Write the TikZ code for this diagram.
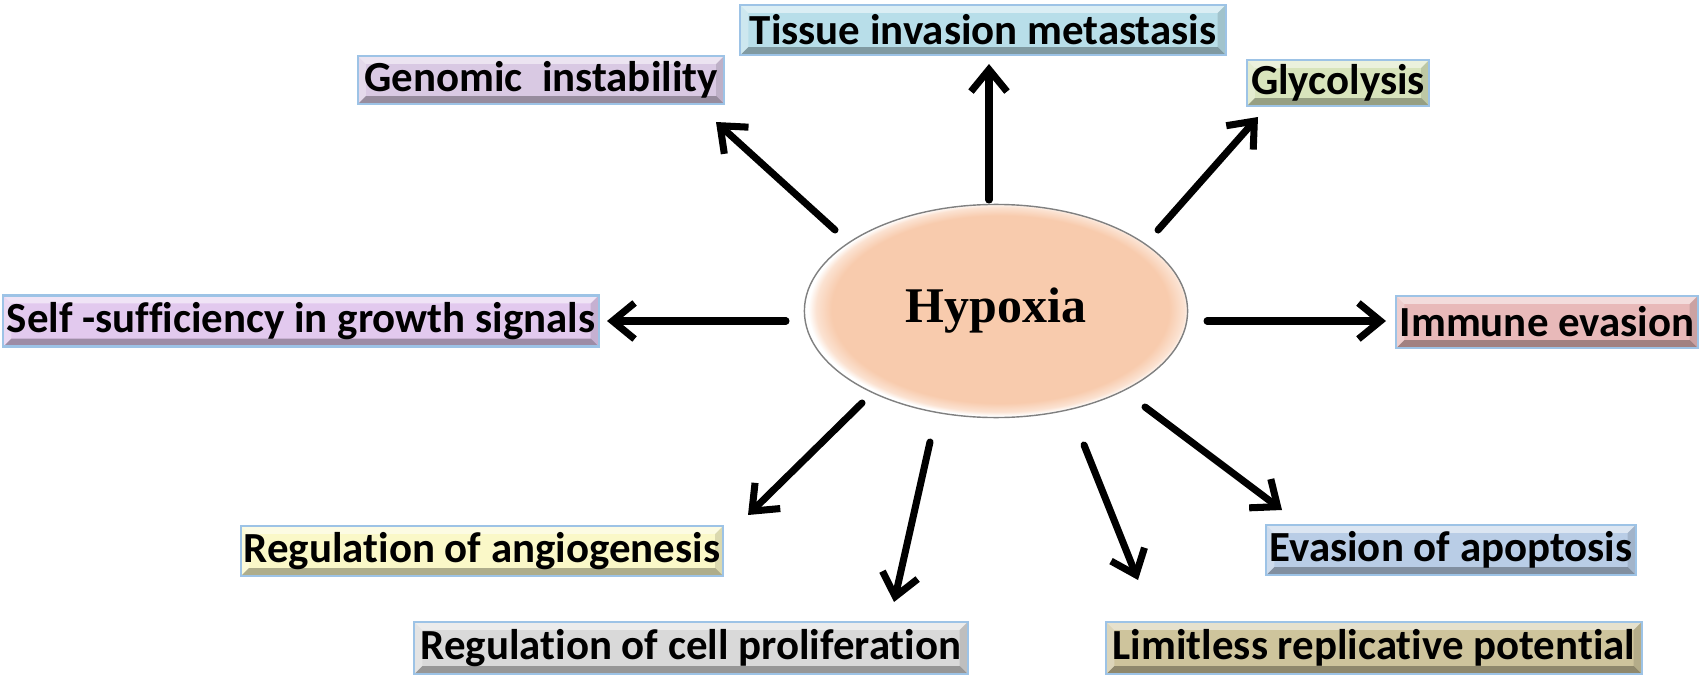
\documentclass[tikz,border=0pt]{standalone}
\usepackage{fontspec}
\setmainfont{Carlito}[Ligatures={NoCommon}]
\newfontfamily\tnr{Liberation Serif}
\usetikzlibrary{shapes.geometric,calc,arrows.meta}
\definecolor{bord}{HTML}{9DC3E6}
\definecolor{cgen}{HTML}{D9C9E3}
\definecolor{ctis}{HTML}{B8DEE9}
\definecolor{cgly}{HTML}{D8E4BC}
\definecolor{cself}{HTML}{E2C9EE}
\definecolor{cimm}{HTML}{E8B9B9}
\definecolor{cang}{HTML}{FAF8C8}
\definecolor{capo}{HTML}{B9CDE6}
\definecolor{cpro}{HTML}{D9D9D9}
\definecolor{clim}{HTML}{CEC49C}
\definecolor{peach}{HTML}{F8CBAD}
\pgfdeclareradialshading{hyposh}{\pgfpoint{1bp}{0.7bp}}{%
  color(0bp)=(peach); color(22bp)=(peach); color(24bp)=(peach!55!white);
  color(25bp)=(white); color(50bp)=(white)}
\tikzset{
  bx/.style={draw=bord, line width=0.6pt, fill=#1, inner sep=0pt,
    minimum height=0.5cm,
    font=\bfseries\fontsize{12.2}{14}\selectfont,
    path picture={
      \path (path picture bounding box.south west) coordinate (pSW)
            (path picture bounding box.north east) coordinate (pNE);
      \fill[white,opacity=0.5] (pSW|-pNE) -- (pNE) -- ($(pNE)+(-0.8mm,-0.8mm)$) -- ($(pSW|-pNE)+(0.8mm,-0.8mm)$) -- cycle;
      \fill[black,opacity=0.3] (pSW) -- (pSW-|pNE) -- ($(pSW-|pNE)+(-0.8mm,0.8mm)$) -- ($(pSW)+(0.8mm,0.8mm)$) -- cycle;
      \fill[white,opacity=0.3] (pSW) -- (pSW|-pNE) -- ($(pSW|-pNE)+(0.8mm,-0.8mm)$) -- ($(pSW)+(0.8mm,0.8mm)$) -- cycle;
      \fill[black,opacity=0.12] (pNE) -- (pSW-|pNE) -- ($(pSW-|pNE)+(-0.8mm,0.8mm)$) -- ($(pNE)+(-0.8mm,-0.8mm)$) -- cycle;
    }},
  arr/.style={line width=2pt, line cap=round, line join=round,
    -{Straight Barb[length=2.2mm,width=3.6mm,line width=2pt]}},
}
\begin{document}
\begin{tikzpicture}[x=0.01cm,y=-0.01cm]
\path[fill=white] (0,0) rectangle (1700,679);
\useasboundingbox (0,0) rectangle (1700,679);
% central ellipse
\node[ellipse, draw=black!50, line width=0.4pt, shading=hyposh,
      minimum width=3.83cm, minimum height=2.13cm, inner sep=0pt,
      font=\tnr\bfseries\fontsize{14.2}{16}\selectfont] (hyp) at (996,311) {Hypoxia};
% boxes
\node[bx=ctis, minimum width=4.85cm, minimum height=0.50cm] (tis) at (983,30) {Tissue invasion metastasis};
\node[bx=cgen, minimum width=3.66cm, minimum height=0.48cm] (gen) at (541,80) {Genomic\ \ instability};
\node[bx=cgly, minimum width=1.82cm, minimum height=0.46cm] (gly) at (1338,83) {Glycolysis};
\node[bx=cself, minimum width=5.95cm, minimum height=0.51cm] (self) at (301,321) {Self -sufficiency in growth signals};
\node[bx=cimm, minimum width=3.01cm, minimum height=0.52cm] (imm) at (1547,322) {Immune evasion};
\node[bx=cang, minimum width=4.82cm, minimum height=0.50cm] (ang) at (482,551) {Regulation of angiogenesis};
\node[bx=capo, minimum width=3.69cm, minimum height=0.50cm] (apo) at (1451,550) {Evasion of apoptosis};
\node[bx=cpro, minimum width=5.53cm, minimum height=0.52cm] (pro) at (691,648) {Regulation of cell proliferation};
\node[bx=clim, minimum width=5.35cm, minimum height=0.52cm] (lim) at (1374,648) {Limitless replicative potential};
% arrow end points
\coordinate (sN) at (989,200);   \coordinate (eN) at (989,64);
\coordinate (sNW) at (835,230);  \coordinate (eNW) at (716,122);
\coordinate (sNE) at (1158,230); \coordinate (eNE) at (1258,117);
\coordinate (sW) at (786,321);   \coordinate (eW) at (607,321);
\coordinate (sE) at (1207,321);  \coordinate (eE) at (1386,321);
\coordinate (sSW) at (862,403);  \coordinate (eSW) at (748,515);
\coordinate (sS1) at (930,442);  \coordinate (eS1) at (894,602);
\coordinate (sS2) at (1084,445); \coordinate (eS2) at (1138,580);
\coordinate (sSE) at (1145,407); \coordinate (eSE) at (1282,510);
\draw[arr] (sN) -- (eN);
\draw[arr] (sNW) -- (eNW);
\draw[arr] (sNE) -- (eNE);
\draw[arr] (sW) -- (eW);
\draw[arr] (sE) -- (eE);
\draw[arr] (sSW) -- (eSW);
\draw[arr] (sS1) -- (eS1);
\draw[arr] (sS2) -- (eS2);
\draw[arr] (sSE) -- (eSE);
\end{tikzpicture}
\end{document}
